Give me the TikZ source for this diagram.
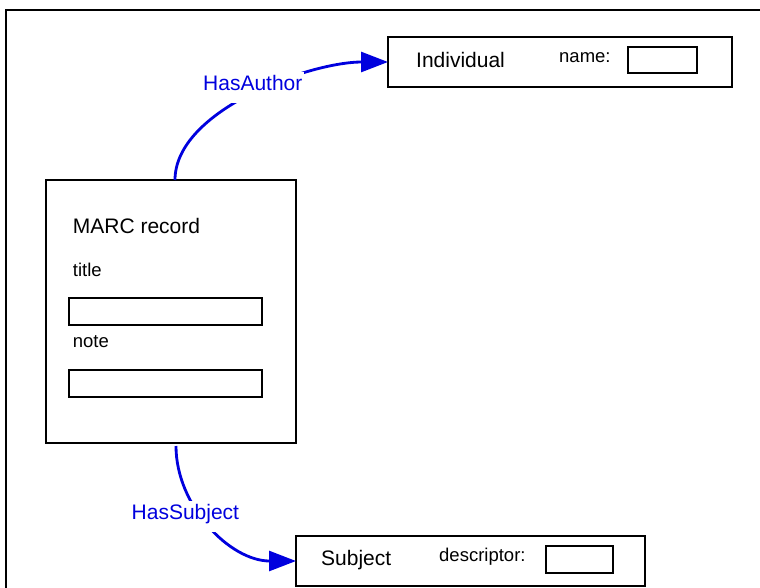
\documentclass[tikz,border=0pt]{standalone}
\usepackage{fontspec}
\setmainfont{Liberation Sans}
\usetikzlibrary{arrows.meta}
\definecolor{relblue}{RGB}{0,0,222}
\tikzset{
  box/.style={draw=black, line width=2.4pt, anchor=north west, inner sep=0pt, outer sep=0pt},
  big/.style={font=\fontsize{21}{25}\selectfont, anchor=base west, inner sep=0pt},
  small/.style={font=\fontsize{18.5}{22}\selectfont, anchor=base west, inner sep=0pt},
  rel/.style={draw=relblue, line width=2.8pt, -{Triangle[length=27pt,width=20pt]}},
  rellabel/.style={font=\fontsize{21}{25}\selectfont, text=relblue, fill=white,
    anchor=base west, inner xsep=1.5pt, inner ysep=3pt, text depth=10pt}
}
\begin{document}
\begin{tikzpicture}[x=1pt,y=-1pt]
\useasboundingbox (0,0) rectangle (760,587);
% surrounding frame, open to the right and bottom
\draw[line width=2.8pt] (6,600) -- (6,10) -- (775,10);

% Individual
\node[box, minimum width=344pt, minimum height=50pt] (ind) at (388,37) {};
\node[big] (indt) at (416,67) {Individual};
\node[small] (namet) at (559,62) {name:};
\node[box, minimum width=69pt, minimum height=26pt] (nameb) at (628,47) {};

% MARC record
\node[box, minimum width=250pt, minimum height=263pt] (marc) at (46,180) {};
\node[big] (marct) at (72.7,233) {MARC record};
\node[small] (titlet) at (72.7,276) {title};
\node[box, minimum width=193pt, minimum height=27pt] (titleb) at (69,298) {};
\node[small] (notet) at (72.7,347) {note};
\node[box, minimum width=193pt, minimum height=27pt] (noteb) at (69,370) {};

% Subject
\node[box, minimum width=349pt, minimum height=50pt] (subj) at (296,536) {};
\node[big] (subjt) at (321,565.7) {Subject};
\node[small] (desct) at (439,561.7) {descriptor:};
\node[box, minimum width=67pt, minimum height=27pt] (descb) at (546,546) {};

% relations
\draw[rel] ([xshift=4pt]marc.north) .. controls +(0,-70) and (310,62) .. (ind.west);
\node[rellabel] (hasauthor) at (201.5,90) {HasAuthor};

\draw[rel] ([xshift=5pt,yshift=-3pt]marc.south) .. controls +(0,60) and (230,561) .. (subj.west);
\node[rellabel] (hassubject) at (130,519) {HasSubject};
\end{tikzpicture}
\end{document}
